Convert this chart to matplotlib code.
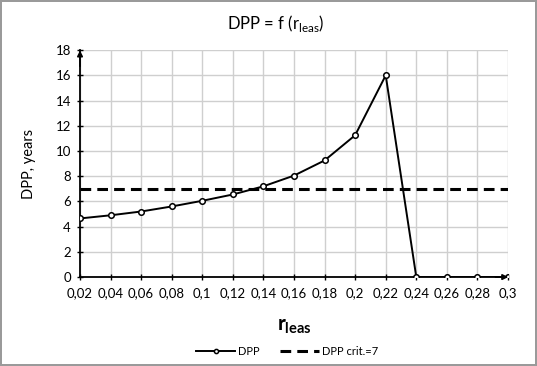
import matplotlib.pyplot as plt
import numpy as np

plt.rcParams['font.family'] = ['Lato', 'DejaVu Sans']
plt.rcParams['mathtext.fontset'] = 'custom'
plt.rcParams['mathtext.rm'] = 'Lato'
plt.rcParams['mathtext.bf'] = 'Lato:bold'

r_leas = [0.02, 0.04, 0.06, 0.08, 0.10, 0.12, 0.14, 0.16, 0.18, 0.20, 0.22, 0.24, 0.26, 0.28, 0.30]
dpp = [4.65, 4.9, 5.2, 5.6, 6.05, 6.55, 7.2, 8.05, 9.25, 11.25, 16.0, 0, 0, 0, 0]
dpp_crit = [7] * len(r_leas)
tick_labels = ['0,02', '0,04', '0,06', '0,08', '0,1', '0,12', '0,14', '0,16',
               '0,18', '0,2', '0,22', '0,24', '0,26', '0,28', '0,3']

fig = plt.figure(figsize=(5.37, 3.66), dpi=100)
fig.patch.set_edgecolor('#9a9a9a')
fig.patch.set_linewidth(1.5)
ax = fig.add_axes([0.149, 0.243, 0.797, 0.62])

ax.plot(r_leas, dpp, color='black', lw=1.4, marker='o', ms=4,
        mfc='white', mec='black', mew=1.1, label='DPP', zorder=3)
ax.plot(r_leas, dpp_crit, color='black', lw=2.2, ls=(0, (3.5, 2)),
        label='DPP crit.=7', zorder=2)

ax.set_xlim(0.02, 0.30)
ax.set_ylim(0, 18)
ax.set_xticks(r_leas)
ax.set_xticklabels(tick_labels)
ax.set_yticks(np.arange(0, 19, 2))
ax.tick_params(axis='both', direction='inout', length=5, width=1, labelsize=9.5,
               colors='black', pad=4)
ax.tick_params(axis='x', pad=5)
ax.grid(True, color='#cfcfcf', lw=1)
ax.set_axisbelow(True)

for s in ['top', 'right']:
    ax.spines[s].set_visible(False)
for s in ['left', 'bottom']:
    ax.spines[s].set_linewidth(1.3)

# axis arrows
ax.annotate('', xy=(0.02, 18.2), xytext=(0.02, 16.5),
            arrowprops=dict(arrowstyle='-|>', color='black', lw=1.2,
                            mutation_scale=8), annotation_clip=False)
ax.annotate('', xy=(0.302, 0), xytext=(0.29, 0),
            arrowprops=dict(arrowstyle='-|>', color='black', lw=1.2,
                            mutation_scale=8), annotation_clip=False)

ax.set_ylabel('DPP, years', fontsize=10.5, labelpad=14)
ax.set_xlabel(r'$\mathbf{r}_{\mathbf{leas}}$', fontsize=15, labelpad=12)
fig.text(0.514, 0.935, r'DPP = f (r$_{\mathregular{leas}}$)', ha='center',
         va='center', fontsize=12)

leg = fig.legend(loc='center', bbox_to_anchor=(0.535, 0.04), ncol=2,
                 frameon=False, fontsize=8, handlelength=3.5,
                 columnspacing=1.8, handletextpad=0.3)
for h in leg.legend_handles:
    h.set_markersize(3)

fig.savefig('out.png', dpi=100)
